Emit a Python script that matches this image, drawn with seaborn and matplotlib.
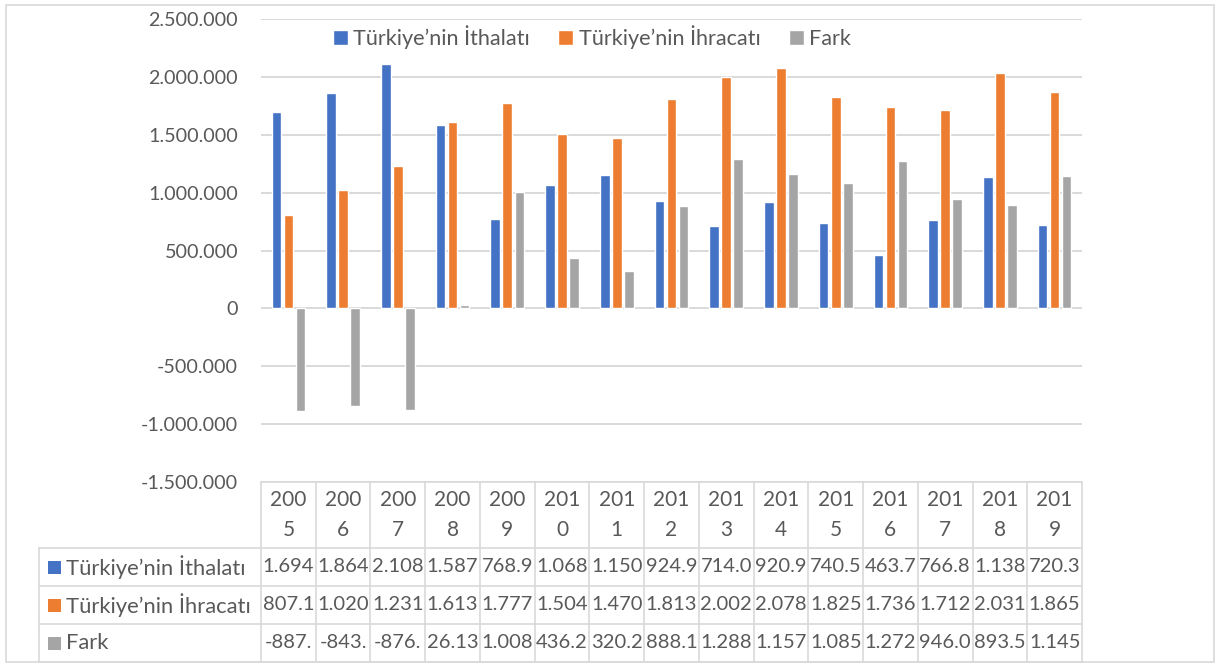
import matplotlib
matplotlib.use("Agg")
import matplotlib.pyplot as plt
import seaborn as sns
import pandas as pd
from matplotlib.patches import Rectangle

# ---------------- data ----------------
years = ["2005", "2006", "2007", "2008", "2009", "2010", "2011", "2012",
         "2013", "2014", "2015", "2016", "2017", "2018", "2019"]
ithalat = [1694200, 1864300, 2108400, 1587600, 768900, 1068400, 1150500, 924900,
           714000, 920900, 740500, 463700, 766800, 1138300, 720300]
ihracat = [807100, 1020500, 1231800, 1613700, 1777900, 1504600, 1470700, 1813000,
           2002400, 2078200, 1825800, 1736700, 1712800, 2031800, 1865900]
fark = [-887100, -843800, -876600, 26130, 1008900, 436200, 320200, 888100,
        1288400, 1157300, 1085300, 1272900, 946000, 893500, 1145600]
series_names = ["Türkiye’nin İthalatı", "Türkiye’nin İhracatı", "Fark"]
series_colors = ["#4472C4", "#ED7D31", "#A5A5A5"]
yticks = [-1500000, -1000000, -500000, 0, 500000, 1000000, 1500000, 2000000, 2500000]

series_values = [ithalat, ihracat, fark]
df = pd.DataFrame({
    "Yıl": years * 3,
    "Değer": ithalat + ihracat + fark,
    "Seri": [n for n in series_names for _ in years],
})

TXT = "#595959"
GRID = "#D9D9D9"

sns.set_theme(style="white")
plt.rcParams["font.family"] = ["Lato", "DejaVu Sans"]

W, H = 1217, 664
fig = plt.figure(figsize=(W / 100, H / 100), dpi=100)

# plot area (pixel layout)
PL, PR, PT, PB = 261, 1082, 19, 482
ax = fig.add_axes([PL / W, 1 - PB / H, (PR - PL) / W, (PB - PT) / H])
sns.barplot(data=df, x="Yıl", y="Değer", hue="Seri", hue_order=series_names,
            palette=series_colors, width=0.66, gap=0.2, errorbar=None,
            saturation=1, ax=ax, legend=True)

ax.set_xlim(-0.5, len(years) - 0.5)
ax.set_ylim(yticks[0], yticks[-1])
ax.set_yticks(yticks)


def fmt(v):
    s = f"{abs(int(round(v))):,}".replace(",", ".")
    return ("-" if v < 0 else "") + s


ax.set_yticklabels([fmt(v) for v in yticks])
ax.tick_params(axis="y", length=0, pad=16.5, labelsize=14.2, labelcolor=TXT)
ax.tick_params(axis="x", length=0, labelbottom=False)
ax.set_xlabel("")
ax.set_ylabel("")
ax.yaxis.grid(True, color=GRID, lw=1.4)
ax.set_axisbelow(True)
for sp in ax.spines.values():
    sp.set_visible(False)

handles, labels = ax.get_legend_handles_labels()
ax.get_legend().remove()
leg = ax.legend(handles, labels, loc="center", bbox_to_anchor=(592 / W, 1 - 37 / H),
                bbox_transform=fig.transFigure, ncol=3, frameon=False,
                handlelength=0.7, handleheight=0.7, handletextpad=0.25,
                columnspacing=1.3, fontsize=15.6)
for t in leg.get_texts():
    t.set_color(TXT)

# ---------------- overlay: border + data table ----------------
ov = fig.add_axes([0, 0, 1, 1])
ov.set_xlim(0, W)
ov.set_ylim(H, 0)
ov.axis("off")
ov.patch.set_alpha(0)

ov.add_patch(Rectangle((6, 5), 1208, 657, fill=False, ec=GRID, lw=1.2))

TL = 39
rows_y = [482, 548, 586, 624, 662]
colw = (PR - PL) / len(years)
lw_t = 1.2
# horizontal lines
ov.plot([PL, PR], [rows_y[0], rows_y[0]], color=GRID, lw=lw_t)
for yy in rows_y[1:]:
    ov.plot([TL, PR], [yy, yy], color=GRID, lw=lw_t)
# vertical lines
for i in range(len(years) + 1):
    x = PL + i * colw
    ov.plot([x, x], [rows_y[0], rows_y[-1]], color=GRID, lw=lw_t)
ov.plot([TL, TL], [rows_y[1], rows_y[-1]], color=GRID, lw=lw_t)

# header (years, wrapped)
for i, y in enumerate(years):
    cx = PL + (i + 0.5) * colw
    ov.text(cx, 500, y[:3], ha="center", va="center", fontsize=15, color=TXT)
    ov.text(cx, 530, y[3:], ha="center", va="center", fontsize=15, color=TXT)

# data rows
for r, (name, col, vals) in enumerate(zip(series_names, series_colors, series_values)):
    cy = (rows_y[r + 1] + rows_y[r + 2]) / 2
    ov.add_patch(Rectangle((48, cy - 6.5), 13, 13, color=col, lw=0))
    ov.text(66, cy, name, ha="left", va="center", fontsize=15.8, color=TXT)
    for i, v in enumerate(vals):
        cx = PL + (i + 0.5) * colw
        ov.text(cx, cy, fmt(v)[:5], ha="center", va="center", fontsize=14.5, color=TXT)

fig.savefig("out.png", dpi=100)
